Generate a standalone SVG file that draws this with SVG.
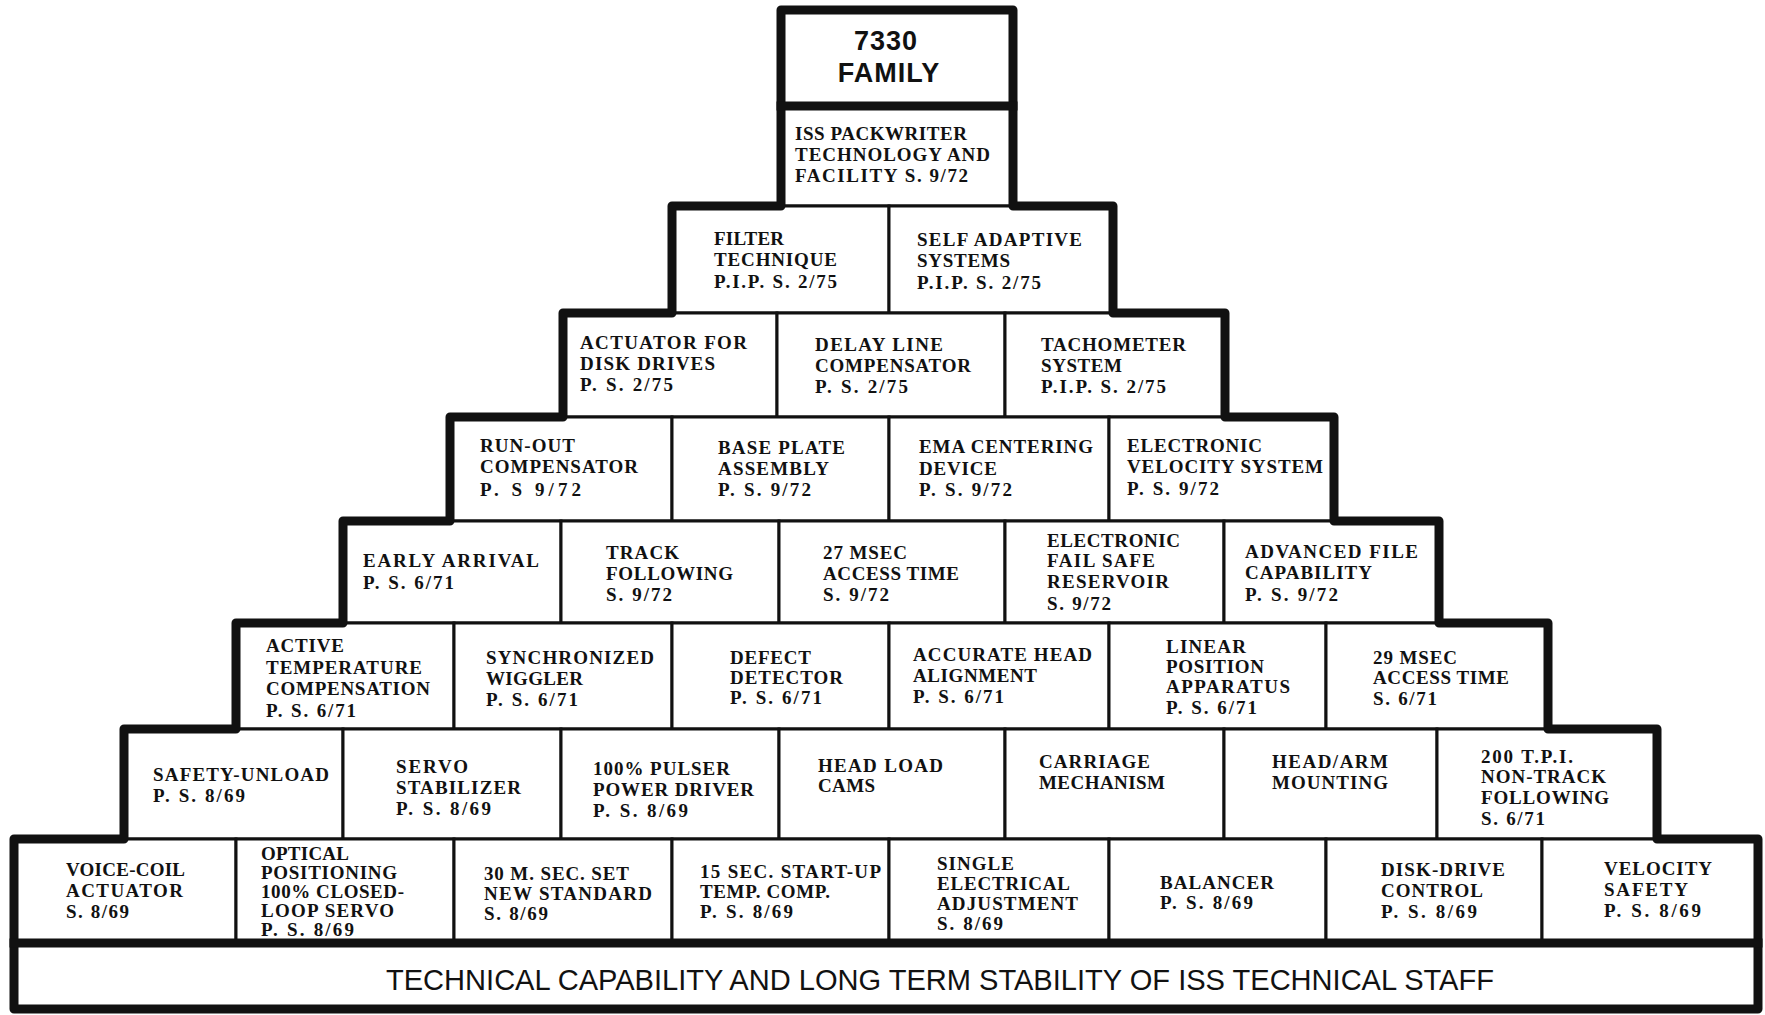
<svg xmlns="http://www.w3.org/2000/svg" width="1765" height="1015" viewBox="0 0 1765 1015">
<style>
.box{fill:#fff;stroke:#111;stroke-width:3}
.t{font-family:"Liberation Serif","DejaVu Serif",serif;font-weight:bold;font-size:19px;fill:#111}
.ttl{font-family:"Liberation Sans",Arial,sans-serif;font-weight:bold;font-size:27px;fill:#111;text-anchor:middle;letter-spacing:1px}
.base{font-family:"Liberation Sans",Arial,sans-serif;font-size:30px;fill:#111}
.frame{fill:none;stroke:#111;stroke-width:9;stroke-linejoin:round;stroke-linecap:square}
</style>
<rect x="0" y="0" width="1765" height="1015" fill="#fff"/>
<g id="n-7330"><rect class="box" x="781" y="10" width="232" height="96"/>
<text class="ttl" x="886" y="50">7330</text><text class="ttl" x="889" y="82">FAMILY</text></g>
<g id="n-iss"><rect class="box" x="781" y="106" width="232" height="100"/>
<text class="t" x="795" y="140" textLength="172" lengthAdjust="spacing">ISS PACKWRITER</text>
<text class="t" x="795" y="161" textLength="195" lengthAdjust="spacing">TECHNOLOGY AND</text>
<text class="t" x="795" y="182" textLength="173" lengthAdjust="spacing">FACILITY S. 9/72</text></g>

<g id="n-filter"><rect class="box" x="672" y="206" width="217" height="107"/>
<text class="t" x="714" y="245" textLength="70" lengthAdjust="spacing">FILTER</text>
<text class="t" x="714" y="266" textLength="123" lengthAdjust="spacing">TECHNIQUE</text>
<text class="t" x="714" y="288" textLength="123" lengthAdjust="spacing">P.I.P. S. 2/75</text></g>
<g id="n-selfadaptive"><rect class="box" x="889" y="206" width="224" height="107"/>
<text class="t" x="917" y="246" textLength="165" lengthAdjust="spacing">SELF ADAPTIVE</text>
<text class="t" x="917" y="267" textLength="93" lengthAdjust="spacing">SYSTEMS</text>
<text class="t" x="917" y="289" textLength="124" lengthAdjust="spacing">P.I.P. S. 2/75</text></g>

<g id="n-actuator"><rect class="box" x="563" y="313" width="214" height="104"/>
<text class="t" x="580" y="349" textLength="167" lengthAdjust="spacing">ACTUATOR FOR</text>
<text class="t" x="580" y="370" textLength="135" lengthAdjust="spacing">DISK DRIVES</text>
<text class="t" x="580" y="391" textLength="93" lengthAdjust="spacing">P. S. 2/75</text></g>
<g id="n-delayline"><rect class="box" x="777" y="313" width="228" height="104"/>
<text class="t" x="815" y="351" textLength="128" lengthAdjust="spacing">DELAY LINE</text>
<text class="t" x="815" y="372" textLength="156" lengthAdjust="spacing">COMPENSATOR</text>
<text class="t" x="815" y="393" textLength="93" lengthAdjust="spacing">P. S. 2/75</text></g>
<g id="n-tachometer"><rect class="box" x="1005" y="313" width="220" height="104"/>
<text class="t" x="1041" y="351" textLength="145" lengthAdjust="spacing">TACHOMETER</text>
<text class="t" x="1041" y="372" textLength="81" lengthAdjust="spacing">SYSTEM</text>
<text class="t" x="1041" y="393" textLength="125" lengthAdjust="spacing">P.I.P. S. 2/75</text></g>

<g id="n-runout"><rect class="box" x="450" y="417" width="222" height="104"/>
<text class="t" x="480" y="452" textLength="95" lengthAdjust="spacing">RUN-OUT</text>
<text class="t" x="480" y="473" textLength="158" lengthAdjust="spacing">COMPENSATOR</text>
<text class="t" x="480" y="496" textLength="101" lengthAdjust="spacing">P. S 9/72</text></g>
<g id="n-baseplate"><rect class="box" x="672" y="417" width="217" height="104"/>
<text class="t" x="718" y="454" textLength="127" lengthAdjust="spacing">BASE PLATE</text>
<text class="t" x="718" y="475" textLength="111" lengthAdjust="spacing">ASSEMBLY</text>
<text class="t" x="718" y="496" textLength="93" lengthAdjust="spacing">P. S. 9/72</text></g>
<g id="n-ema"><rect class="box" x="889" y="417" width="220" height="104"/>
<text class="t" x="919" y="453" textLength="174" lengthAdjust="spacing">EMA CENTERING</text>
<text class="t" x="919" y="475" textLength="78" lengthAdjust="spacing">DEVICE</text>
<text class="t" x="919" y="496" textLength="93" lengthAdjust="spacing">P. S. 9/72</text></g>
<g id="n-elecvelocity"><rect class="box" x="1109" y="417" width="225" height="104"/>
<text class="t" x="1127" y="452" textLength="135" lengthAdjust="spacing">ELECTRONIC</text>
<text class="t" x="1127" y="473" textLength="196" lengthAdjust="spacing">VELOCITY SYSTEM</text>
<text class="t" x="1127" y="495" textLength="92" lengthAdjust="spacing">P. S. 9/72</text></g>

<g id="n-early"><rect class="box" x="343" y="521" width="218" height="102"/>
<text class="t" x="363" y="567" textLength="176" lengthAdjust="spacing">EARLY ARRIVAL</text>
<text class="t" x="363" y="589" textLength="91" lengthAdjust="spacing">P. S. 6/71</text></g>
<g id="n-track"><rect class="box" x="561" y="521" width="218" height="102"/>
<text class="t" x="606" y="559" textLength="73" lengthAdjust="spacing">TRACK</text>
<text class="t" x="606" y="580" textLength="127" lengthAdjust="spacing">FOLLOWING</text>
<text class="t" x="606" y="601" textLength="66" lengthAdjust="spacing">S. 9/72</text></g>
<g id="n-27msec"><rect class="box" x="779" y="521" width="226" height="102"/>
<text class="t" x="823" y="559" textLength="84" lengthAdjust="spacing">27 MSEC</text>
<text class="t" x="823" y="580" textLength="136" lengthAdjust="spacing">ACCESS TIME</text>
<text class="t" x="823" y="601" textLength="66" lengthAdjust="spacing">S. 9/72</text></g>
<g id="n-failsafe"><rect class="box" x="1005" y="521" width="219" height="102"/>
<text class="t" x="1047" y="547" textLength="133" lengthAdjust="spacing">ELECTRONIC</text>
<text class="t" x="1047" y="567" textLength="108" lengthAdjust="spacing">FAIL SAFE</text>
<text class="t" x="1047" y="588" textLength="122" lengthAdjust="spacing">RESERVOIR</text>
<text class="t" x="1047" y="610" textLength="64" lengthAdjust="spacing">S. 9/72</text></g>
<g id="n-advfile"><rect class="box" x="1224" y="521" width="215" height="102"/>
<text class="t" x="1245" y="558" textLength="173" lengthAdjust="spacing">ADVANCED FILE</text>
<text class="t" x="1245" y="579" textLength="127" lengthAdjust="spacing">CAPABILITY</text>
<text class="t" x="1245" y="601" textLength="93" lengthAdjust="spacing">P. S. 9/72</text></g>

<g id="n-activetemp"><rect class="box" x="236" y="623" width="218" height="106"/>
<text class="t" x="266" y="652" textLength="78" lengthAdjust="spacing">ACTIVE</text>
<text class="t" x="266" y="674" textLength="156" lengthAdjust="spacing">TEMPERATURE</text>
<text class="t" x="266" y="695" textLength="164" lengthAdjust="spacing">COMPENSATION</text>
<text class="t" x="266" y="717" textLength="90" lengthAdjust="spacing">P. S. 6/71</text></g>
<g id="n-wiggler"><rect class="box" x="454" y="623" width="218" height="106"/>
<text class="t" x="486" y="664" textLength="168" lengthAdjust="spacing">SYNCHRONIZED</text>
<text class="t" x="486" y="685" textLength="97" lengthAdjust="spacing">WIGGLER</text>
<text class="t" x="486" y="706" textLength="92" lengthAdjust="spacing">P. S. 6/71</text></g>
<g id="n-defect"><rect class="box" x="672" y="623" width="217" height="106"/>
<text class="t" x="730" y="664" textLength="81" lengthAdjust="spacing">DEFECT</text>
<text class="t" x="730" y="684" textLength="113" lengthAdjust="spacing">DETECTOR</text>
<text class="t" x="730" y="704" textLength="92" lengthAdjust="spacing">P. S. 6/71</text></g>
<g id="n-headalign"><rect class="box" x="889" y="623" width="220" height="106"/>
<text class="t" x="913" y="661" textLength="179" lengthAdjust="spacing">ACCURATE HEAD</text>
<text class="t" x="913" y="682" textLength="124" lengthAdjust="spacing">ALIGNMENT</text>
<text class="t" x="913" y="703" textLength="91" lengthAdjust="spacing">P. S. 6/71</text></g>
<g id="n-linear"><rect class="box" x="1109" y="623" width="217" height="106"/>
<text class="t" x="1166" y="653" textLength="80" lengthAdjust="spacing">LINEAR</text>
<text class="t" x="1166" y="673" textLength="98" lengthAdjust="spacing">POSITION</text>
<text class="t" x="1166" y="693" textLength="124" lengthAdjust="spacing">APPARATUS</text>
<text class="t" x="1166" y="714" textLength="91" lengthAdjust="spacing">P. S. 6/71</text></g>
<g id="n-29msec"><rect class="box" x="1326" y="623" width="222" height="106"/>
<text class="t" x="1373" y="664" textLength="84" lengthAdjust="spacing">29 MSEC</text>
<text class="t" x="1373" y="684" textLength="136" lengthAdjust="spacing">ACCESS TIME</text>
<text class="t" x="1373" y="705" textLength="64" lengthAdjust="spacing">S. 6/71</text></g>

<g id="n-safetyunload"><rect class="box" x="124" y="729" width="219" height="110"/>
<text class="t" x="153" y="781" textLength="176" lengthAdjust="spacing">SAFETY-UNLOAD</text>
<text class="t" x="153" y="802" textLength="92" lengthAdjust="spacing">P. S. 8/69</text></g>
<g id="n-servostab"><rect class="box" x="343" y="729" width="218" height="110"/>
<text class="t" x="396" y="773" textLength="72" lengthAdjust="spacing">SERVO</text>
<text class="t" x="396" y="794" textLength="125" lengthAdjust="spacing">STABILIZER</text>
<text class="t" x="396" y="815" textLength="95" lengthAdjust="spacing">P. S. 8/69</text></g>
<g id="n-pulser"><rect class="box" x="561" y="729" width="218" height="110"/>
<text class="t" x="593" y="775" textLength="137" lengthAdjust="spacing">100% PULSER</text>
<text class="t" x="593" y="796" textLength="161" lengthAdjust="spacing">POWER DRIVER</text>
<text class="t" x="593" y="817" textLength="95" lengthAdjust="spacing">P. S. 8/69</text></g>
<g id="n-headload"><rect class="box" x="779" y="729" width="226" height="110"/>
<text class="t" x="818" y="772" textLength="125" lengthAdjust="spacing">HEAD LOAD</text>
<text class="t" x="818" y="792" textLength="57" lengthAdjust="spacing">CAMS</text></g>
<g id="n-carriage"><rect class="box" x="1005" y="729" width="219" height="110"/>
<text class="t" x="1039" y="768" textLength="111" lengthAdjust="spacing">CARRIAGE</text>
<text class="t" x="1039" y="789" textLength="126" lengthAdjust="spacing">MECHANISM</text></g>
<g id="n-headarm"><rect class="box" x="1224" y="729" width="213" height="110"/>
<text class="t" x="1272" y="768" textLength="116" lengthAdjust="spacing">HEAD/ARM</text>
<text class="t" x="1272" y="789" textLength="116" lengthAdjust="spacing">MOUNTING</text></g>
<g id="n-200tpi"><rect class="box" x="1437" y="729" width="220" height="110"/>
<text class="t" x="1481" y="763" textLength="92" lengthAdjust="spacing">200 T.P.I.</text>
<text class="t" x="1481" y="783" textLength="125" lengthAdjust="spacing">NON-TRACK</text>
<text class="t" x="1481" y="804" textLength="128" lengthAdjust="spacing">FOLLOWING</text>
<text class="t" x="1481" y="825" textLength="64" lengthAdjust="spacing">S. 6/71</text></g>

<g id="n-voicecoil"><rect class="box" x="14" y="839" width="222" height="104"/>
<text class="t" x="66" y="876" textLength="119" lengthAdjust="spacing">VOICE-COIL</text>
<text class="t" x="66" y="897" textLength="117" lengthAdjust="spacing">ACTUATOR</text>
<text class="t" x="66" y="918" textLength="63" lengthAdjust="spacing">S. 8/69</text></g>
<g id="n-optical"><rect class="box" x="236" y="839" width="218" height="104"/>
<text class="t" x="261" y="860" textLength="88" lengthAdjust="spacing">OPTICAL</text>
<text class="t" x="261" y="879" textLength="136" lengthAdjust="spacing">POSITIONING</text>
<text class="t" x="261" y="898" textLength="143" lengthAdjust="spacing">100% CLOSED-</text>
<text class="t" x="261" y="917" textLength="133" lengthAdjust="spacing">LOOP SERVO</text>
<text class="t" x="261" y="936" textLength="93" lengthAdjust="spacing">P. S. 8/69</text></g>
<g id="n-30msec"><rect class="box" x="454" y="839" width="218" height="104"/>
<text class="t" x="484" y="880" textLength="145" lengthAdjust="spacing">30 M. SEC. SET</text>
<text class="t" x="484" y="900" textLength="168" lengthAdjust="spacing">NEW STANDARD</text>
<text class="t" x="484" y="920" textLength="64" lengthAdjust="spacing">S. 8/69</text></g>
<g id="n-15sec"><rect class="box" x="672" y="839" width="217" height="104"/>
<text class="t" x="700" y="878" textLength="181" lengthAdjust="spacing">15 SEC. START-UP</text>
<text class="t" x="700" y="898" textLength="130" lengthAdjust="spacing">TEMP. COMP.</text>
<text class="t" x="700" y="918" textLength="93" lengthAdjust="spacing">P. S. 8/69</text></g>
<g id="n-single"><rect class="box" x="889" y="839" width="220" height="104"/>
<text class="t" x="937" y="870" textLength="77" lengthAdjust="spacing">SINGLE</text>
<text class="t" x="937" y="890" textLength="133" lengthAdjust="spacing">ELECTRICAL</text>
<text class="t" x="937" y="910" textLength="141" lengthAdjust="spacing">ADJUSTMENT</text>
<text class="t" x="937" y="930" textLength="66" lengthAdjust="spacing">S. 8/69</text></g>
<g id="n-balancer"><rect class="box" x="1109" y="839" width="217" height="104"/>
<text class="t" x="1160" y="889" textLength="114" lengthAdjust="spacing">BALANCER</text>
<text class="t" x="1160" y="909" textLength="93" lengthAdjust="spacing">P. S. 8/69</text></g>
<g id="n-diskdrive"><rect class="box" x="1326" y="839" width="216" height="104"/>
<text class="t" x="1381" y="876" textLength="124" lengthAdjust="spacing">DISK-DRIVE</text>
<text class="t" x="1381" y="897" textLength="102" lengthAdjust="spacing">CONTROL</text>
<text class="t" x="1381" y="918" textLength="96" lengthAdjust="spacing">P. S. 8/69</text></g>
<g id="n-velsafety"><rect class="box" x="1542" y="839" width="216" height="104"/>
<text class="t" x="1604" y="875" textLength="108" lengthAdjust="spacing">VELOCITY</text>
<text class="t" x="1604" y="896" textLength="84" lengthAdjust="spacing">SAFETY</text>
<text class="t" x="1604" y="917" textLength="97" lengthAdjust="spacing">P. S. 8/69</text></g>

<g id="n-base"><rect class="box" x="14" y="943" width="1744" height="66"/>
<text class="base" x="386" y="990" textLength="1108" lengthAdjust="spacingAndGlyphs">TECHNICAL CAPABILITY AND LONG TERM STABILITY OF ISS TECHNICAL STAFF</text></g>

<g id="connectors">
<path class="frame" d="M781,10 H1013 V206 H1113 V313 H1225 V417 H1334 V521 H1439 V623 H1548 V729 H1657 V839 H1758 V1009 H14 V839 H124 V729 H236 V623 H343 V521 H450 V417 H563 V313 H672 V206 H781 Z"/>
<path class="frame" d="M781,106 H1013 M14,943 H1758"/>
</g>
</svg>
